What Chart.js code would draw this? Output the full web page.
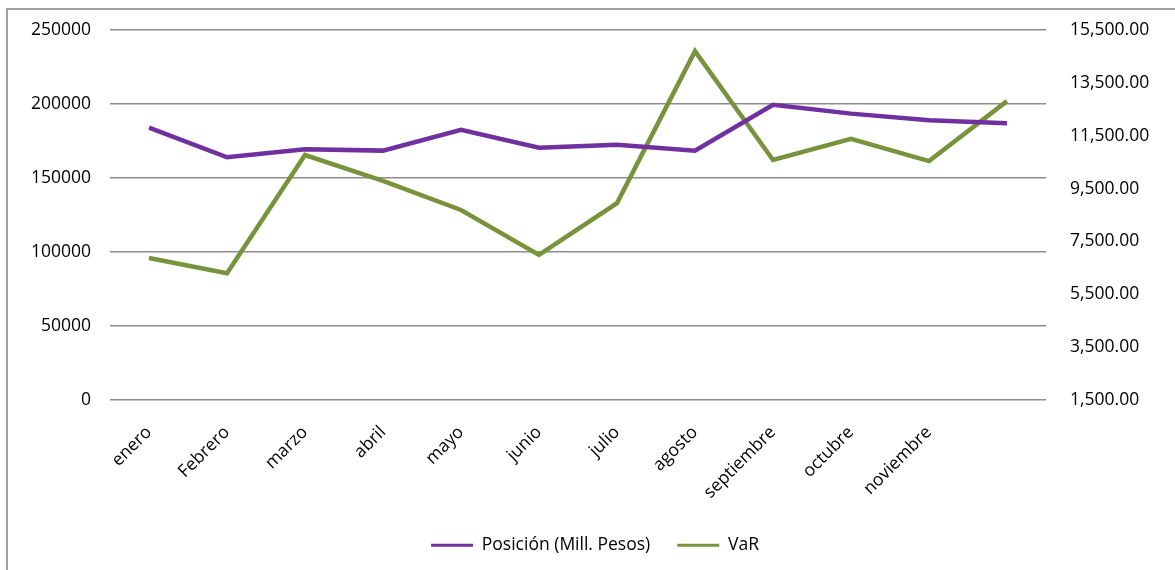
<!DOCTYPE html>
<html>
<head>
<meta charset="utf-8">
<script src="https://cdn.jsdelivr.net/npm/chart.js@4"></script>
<style>
  html, body { margin: 0; padding: 0; background: #fff; overflow: hidden; }
  #frame { position: absolute; left: 6px; top: 8px; width: 1300px; height: 700px;
           border-left: 2px solid #a0a0a0; border-top: 2px solid #a0a0a0; }
  #wrap { position: absolute; left: 0; top: 0; width: 1175px; height: 570px; }
</style>
</head>
<body>
<div id="frame"></div>
<div id="wrap"><canvas id="c" width="1175" height="570"></canvas></div>
<script>
// meses (el último sin etiqueta, como en el original)
const meses = ['enero', 'Febrero', 'marzo', 'abril', 'mayo', 'junio', 'julio',
               'agosto', 'septiembre', 'octubre', 'noviembre', ''];
// Posición (Mill. Pesos) - eje izquierdo
const posicion = [184000, 164000, 169500, 168500, 182500, 170500, 172500,
                  168500, 199500, 193500, 189000, 187000];
// VaR - eje derecho
const valorRiesgo = [6870, 6300, 10770, 9790, 8690, 6990, 8950,
                     14700, 10580, 11380, 10540, 12810];

const fuente = { family: 'Open Sans', size: 17.5 };
const gris = '#8c8c8c';

const ctx = document.getElementById('c').getContext('2d');

// ancho fijo del eje y sin relleno vertical extra
function fijarEje(ancho) {
    return function(scale) {
        scale.width = ancho;
        scale.paddingTop = 0;
        scale.paddingBottom = 0;
    };
}

new Chart(ctx, {
    type: 'line',
    data: {
        labels: meses,
        datasets: [{
            label: 'Posición (Mill. Pesos)',
            data: posicion,
            borderColor: '#7030A0',
            backgroundColor: '#7030A0',
            borderWidth: 4.5,
            pointRadius: 0,
            tension: 0,
            yAxisID: 'y'
        }, {
            label: 'VaR',
            data: valorRiesgo,
            borderColor: '#77933C',
            backgroundColor: '#77933C',
            borderWidth: 4.5,
            pointRadius: 0,
            tension: 0,
            yAxisID: 'y1'
        }]
    },
    options: {
        responsive: false,
        animation: false,
        layout: { padding: { top: 30, left: 15, right: 0, bottom: 6 } },
        plugins: {
            tooltip: { enabled: false },
            legend: {
                position: 'bottom',
                labels: {
                    color: '#000',
                    font: fuente,
                    boxWidth: 42,
                    boxHeight: 3,
                    padding: 27,
                    // caja de leyenda como una línea fina
                    generateLabels: function(chart) {
                        return Chart.defaults.plugins.legend.labels.generateLabels(chart)
                            .map(l => ({ ...l, lineWidth: 0, fillStyle: l.strokeStyle }));
                    }
                }
            }
        },
        scales: {
            x: {
                offset: true,
                grid: { display: false, drawTicks: false },
                border: { display: false },
                ticks: {
                    color: '#000',
                    font: fuente,
                    minRotation: 45,
                    maxRotation: 45,
                    autoSkip: false,
                    padding: 22
                },
                afterFit: function(scale) { scale.height = 109.5; }
            },
            y: {
                position: 'left',
                min: 0,
                max: 250000,
                grid: { color: gris, lineWidth: 1.5, drawTicks: false },
                border: { display: false },
                ticks: {
                    stepSize: 50000,
                    color: '#000',
                    font: fuente,
                    padding: 19,
                    callback: v => String(v)
                },
                afterFit: fijarEje(95)
            },
            y1: {
                position: 'right',
                min: 1500,
                max: 15500,
                grid: { display: false, drawTicks: false },
                border: { display: false },
                ticks: {
                    stepSize: 2000,
                    color: '#000',
                    font: fuente,
                    padding: 24,
                    callback: v => v.toLocaleString('en-US', { minimumFractionDigits: 2, maximumFractionDigits: 2 })
                },
                afterFit: fijarEje(129)
            }
        }
    }
});
</script>
</body>
</html>
